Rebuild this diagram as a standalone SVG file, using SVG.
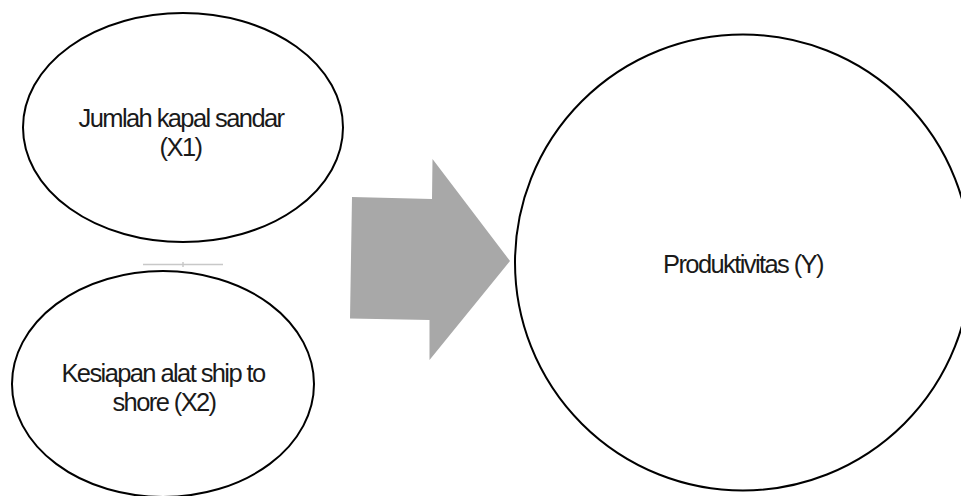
<svg xmlns="http://www.w3.org/2000/svg" width="961" height="496" viewBox="0 0 961 496">
  <style>
    .node-shape { fill: #ffffff; stroke: #000000; stroke-width: 2; }
    .label { font-family: "Liberation Sans", Arial, sans-serif; font-size: 25.5px; letter-spacing: -1.6px; fill: #1a1a1a; text-anchor: middle; }
    .block-arrow { fill: #a8a8a8; }
    .guide { stroke: #c8c8c8; stroke-width: 1.5; fill: none; }
  </style>
  <rect width="961" height="496" fill="#ffffff"/>

  <!-- small guide mark between the two input ellipses -->
  <g id="guide-mark">
    <line class="guide" x1="143" y1="264.5" x2="223" y2="264.5"/>
    <line class="guide" x1="183" y1="262" x2="183" y2="267"/>
  </g>

  <g id="node-x1">
    <ellipse class="node-shape" cx="183" cy="127.5" rx="160" ry="114.5"/>
    <text class="label" x="181" y="126.5">Jumlah kapal sandar</text>
    <text class="label" x="180.5" y="156">(X1)</text>
  </g>

  <g id="node-x2">
    <ellipse class="node-shape" cx="163" cy="384" rx="151" ry="113"/>
    <text class="label" x="163" y="381.5">Kesiapan alat ship to</text>
    <text class="label" x="164" y="411">shore (X2)</text>
  </g>

  <g id="node-y">
    <circle class="node-shape" cx="743" cy="262.5" r="228"/>
    <text class="label" x="743" y="273.3">Produktivitas (Y)</text>
  </g>

  <g id="connectors">
    <polygon class="block-arrow" points="352,197 432,199 432.5,159 510,261 429.5,360 429.5,320 350,318.5"/>
  </g>
</svg>
